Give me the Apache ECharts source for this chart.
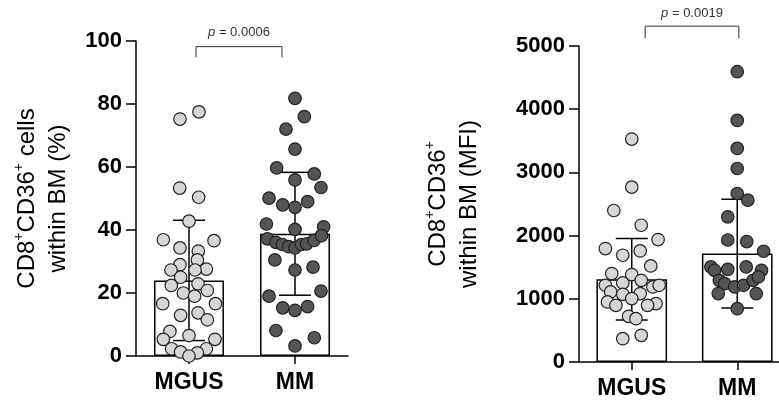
<!DOCTYPE html>
<html>
<head>
<meta charset="utf-8">
<script src="https://cdn.jsdelivr.net/npm/echarts@6/dist/echarts.min.js"></script>
<style>
  html, body { margin: 0; padding: 0; background: #fff; overflow: hidden; }
  /* the right-hand x axis runs past the picture edge, so the canvas is a little wider than the window */
  #main { width: 792px; height: 400px; }
</style>
</head>
<body>
<div id="main"></div>
<script>
var groups = ['MGUS', 'MM'];

// CD8+CD36+ cells within BM (%)
var pctMgus = [75.2, 77.5, 53.3, 50.4, 42.8, 36.9, 36.6, 34.3, 33.3, 30.5, 29.0, 27.3, 27.6, 27.3, 25.0, 22.4, 22.9,
               20.8, 20.0, 19.0, 16.6, 16.6, 12.9, 13.7, 11.5, 7.8, 6.5, 5.3, 5.3, 2.3, 2.3, 1.3, 1.0, 0];
var pctMgusJit = [-0.085, 0.094, -0.088, 0.091, 0, -0.242, 0.236, -0.085, 0.088, 0.079, -0.085, -0.17, 0.164, 0.057,
                  -0.079, -0.167, 0.085, 0.173, -0.053, 0.053, -0.248, 0.25, -0.079, 0.085, 0.173, -0.18, 0, -0.242,
                  0.245, -0.164, 0.164, -0.079, 0.079, 0];
var pctMm = [81.8, 76.0, 72.0, 65.7, 59.7, 57.8, 55.9, 53.5, 50.1, 49.0, 48.0, 47.2, 41.9, 41.0, 40.2, 37.2, 36.1, 35.4,
             34.7, 34.3, 35.4, 35.6, 36.7, 38.2, 30.5, 27.3, 28.2, 19.0, 20.6, 15.3, 14.5, 15.7, 8.1, 5.8, 3.2];
var pctMmJit = [0, 0.088, -0.085, 0, -0.173, 0.182, 0, 0.245, -0.245, 0.119, -0.116, 0, -0.27, 0.27, 0, -0.26, -0.18,
                -0.12, -0.06, 0, 0.06, 0.11, 0.18, 0.25, -0.19, 0, 0.17, -0.245, 0.245, -0.116, 0, 0.119, -0.18, 0.182, 0];
var pctMean = [24.0, 38.8];
var pctSd = [19.1, 19.5];

// CD8+CD36+ within BM (MFI)
var mfiMgus = [3527, 2767, 2397, 2164, 1937, 1794, 1689, 1758, 1520, 1399, 1383, 1214, 1251, 1293, 1188, 1214, 1109,
               1071, 1082, 1003, 950, 924, 897, 897, 723, 686, 369, 422];
var mfiMgusJit = [0, 0, -0.17, 0.09, 0.25, -0.25, -0.085, 0.08, 0.18, -0.19, 0, -0.25, -0.085, 0.09, 0.2, 0.26, -0.2,
                  -0.085, 0.08, 0, -0.23, 0.23, -0.15, 0.15, -0.03, 0.04, -0.085, 0.09];
var mfiMm = [4593, 3823, 3379, 3062, 2666, 2560, 2297, 1930, 1905, 1752, 1505, 1467, 1505, 1451, 1451, 1293, 1240,
             1188, 1214, 1293, 1346, 1082, 1082, 844];
var mfiMmJit = [0, 0, 0, 0, 0, 0.1, -0.09, -0.09, 0.09, 0.25, -0.25, -0.09, 0.085, 0.23, -0.215, -0.17, -0.12,
                -0.025, 0.06, 0.15, 0.2, -0.18, 0.18, 0];
var mfiMean = [1310, 1716];
var mfiSd = [645, 860];

var pLabels = ['0.0006', '0.0019'];

var FONT = 'Liberation Sans, Arial, sans-serif';
var lightFill = '#d6d6d6';
var darkFill = '#555555';

function jitter(values, jit, cat) {
  return values.map(function (v, i) { return [cat + 0.5 + jit[i], v]; });
}

function errorBars(params, api) {
  var x = api.value(0), m = api.value(1), sd = api.value(2);
  var top = api.coord([x, m + sd]);
  var bot = api.coord([x, m - sd]);
  var cap = 16;
  var st = { stroke: '#000', lineWidth: 1.5 };
  return {
    type: 'group',
    children: [
      { type: 'line', shape: { x1: top[0], y1: top[1], x2: bot[0], y2: bot[1] }, style: st },
      { type: 'line', shape: { x1: top[0] - cap, y1: top[1], x2: top[0] + cap, y2: top[1] }, style: st },
      { type: 'line', shape: { x1: bot[0] - cap, y1: bot[1], x2: bot[0] + cap, y2: bot[1] }, style: st }
    ]
  };
}

function bracket(label) {
  return function (params, api) {
    var a = api.coord([api.value(0), api.value(2)]);
    var b = api.coord([api.value(1), api.value(2)]);
    var a2 = api.coord([api.value(0), api.value(3)]);
    var t = api.coord([(api.value(0) + api.value(1)) / 2, api.value(4)]);
    var st = { stroke: '#333', lineWidth: 1, fill: null };
    return {
      type: 'group',
      children: [
        { type: 'polyline', shape: { points: [[a[0], a2[1]], a, b, [b[0], a2[1]]] }, style: st },
        {
          type: 'text', x: t[0], y: t[1],
          style: {
            text: '{i|p} = ' + label, fill: '#333', font: '13px ' + FONT,
            align: 'center', verticalAlign: 'middle',
            rich: { i: { fontStyle: 'italic', fontSize: 13, fontFamily: FONT } }
          }
        }
      ]
    };
  };
}

function valueAxis(grid, max, interval, name, gap) {
  return {
    type: 'value', gridIndex: grid, min: 0, max: max, interval: interval,
    name: name, nameLocation: 'middle', nameRotate: 90, nameGap: gap,
    nameTextStyle: {
      fontFamily: FONT, fontSize: 24, color: '#000', lineHeight: 31, align: 'center',
      rich: {
        t: { fontFamily: FONT, fontSize: 24, color: '#000', lineHeight: 31 },
        s: { fontFamily: FONT, fontSize: 14, color: '#000', lineHeight: 14, verticalAlign: 'top' }
      }
    },
    axisLine: { show: true, lineStyle: { color: '#000', width: 1.5 } },
    axisTick: { show: true, length: 10, lineStyle: { color: '#000', width: 1.5 } },
    axisLabel: {
      fontFamily: FONT, fontSize: 22, fontWeight: 'bold', color: '#000', margin: 14,
      formatter: function (v) { return String(v); }
    },
    splitLine: { show: false }
  };
}

function catAxis(grid) {
  return {
    type: 'category', gridIndex: grid, data: groups,
    axisLine: { lineStyle: { color: '#000', width: 1.5 } },
    axisTick: { show: true, alignWithLabel: true, length: 8, lineStyle: { color: '#000', width: 1.5 } },
    axisLabel: { fontFamily: FONT, fontSize: 23, fontWeight: 'bold', color: '#000', margin: 15 }
  };
}

function dots(xi, yi, data, fill) {
  return {
    type: 'scatter', xAxisIndex: xi, yAxisIndex: yi, data: data, clip: false, z: 4,
    symbolSize: 12.5,
    itemStyle: { color: fill, borderColor: '#222', borderWidth: 1.2, opacity: 1 }
  };
}

var myChart = echarts.init(document.getElementById('main'), null, { renderer: 'canvas' });

var option = {
  backgroundColor: '#fff',
  animation: false,
  grid: [
    { left: 136, top: 41, width: 212, height: 315 },
    { left: 579, top: 46, width: 211, height: 318 }
  ],
  xAxis: [
    catAxis(0),
    catAxis(1),
    { type: 'value', gridIndex: 0, min: 0, max: 2, show: false },
    { type: 'value', gridIndex: 1, min: 0, max: 2, show: false }
  ],
  yAxis: [
    valueAxis(0, 100, 20, '{t|CD8}{s|+}{t|CD36}{s|+}{t| cells}\n{t|within BM (%)}', 62),
    valueAxis(1, 5000, 1000, '{t|CD8}{s|+}{t|CD36}{s|+}\n{t|within BM (MFI)}', 94)
  ],
  series: [
    {
      type: 'bar', xAxisIndex: 0, yAxisIndex: 0, data: pctMean, barWidth: '66%', z: 1,
      itemStyle: { color: '#fff', borderColor: '#000', borderWidth: 1.5 }
    },
    {
      type: 'bar', xAxisIndex: 1, yAxisIndex: 1, data: mfiMean, barWidth: '67%', z: 1,
      itemStyle: { color: '#fff', borderColor: '#000', borderWidth: 1.5 }
    },
    {
      type: 'custom', xAxisIndex: 0, yAxisIndex: 0, z: 2, renderItem: errorBars,
      data: pctMean.map(function (m, i) { return [i, m, pctSd[i]]; })
    },
    {
      type: 'custom', xAxisIndex: 1, yAxisIndex: 1, z: 2, renderItem: errorBars,
      data: mfiMean.map(function (m, i) { return [i, m, mfiSd[i]]; })
    },
    dots(2, 0, jitter(pctMgus, pctMgusJit, 0), lightFill),
    dots(2, 0, jitter(pctMm, pctMmJit, 1), darkFill),
    dots(3, 1, jitter(mfiMgus, mfiMgusJit, 0), lightFill),
    dots(3, 1, jitter(mfiMm, mfiMmJit, 1), darkFill),
    {
      type: 'custom', xAxisIndex: 2, yAxisIndex: 0, z: 5, clip: false,
      renderItem: bracket(pLabels[0]),
      data: [[0.566, 1.377, 98.2, 94.8, 102.7]]
    },
    {
      type: 'custom', xAxisIndex: 3, yAxisIndex: 1, z: 5, clip: false,
      renderItem: bracket(pLabels[1]),
      data: [[0.627, 1.515, 5314, 5121, 5514]]
    }
  ]
};

myChart.setOption(option);
</script>
</body>
</html>
